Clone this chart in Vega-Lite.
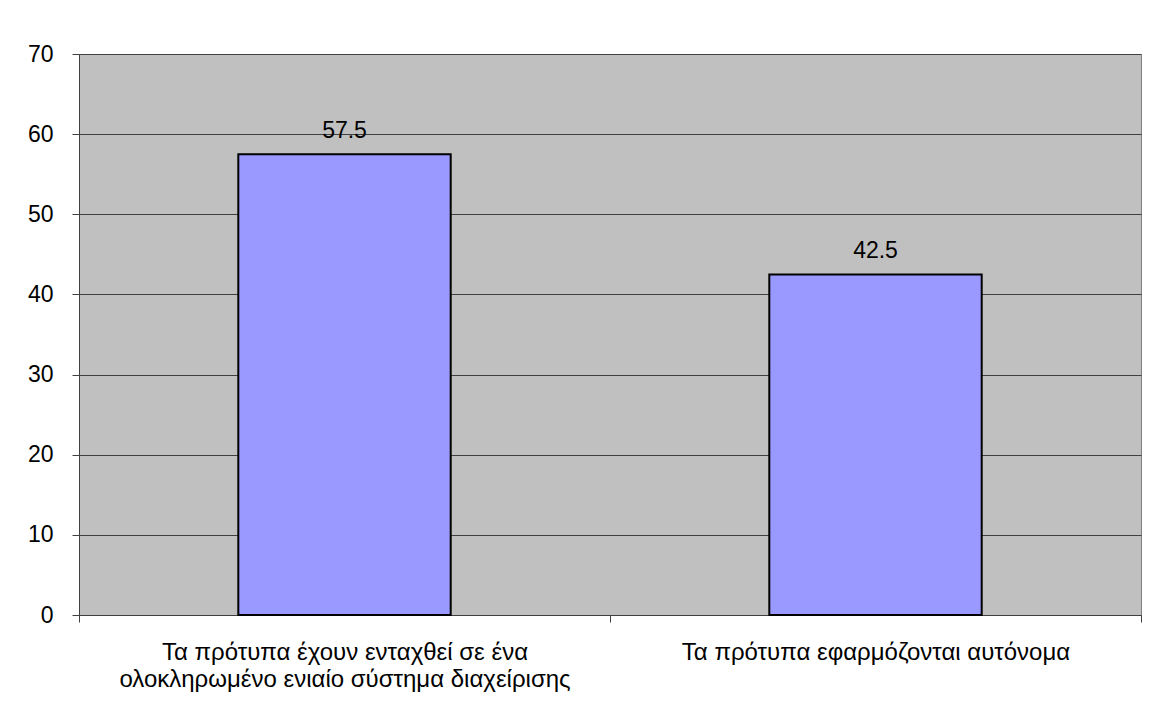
{
  "$schema": "https://vega.github.io/schema/vega-lite/v6.json",
  "autosize": {"type": "none"},
  "width": 1062,
  "height": 561,
  "padding": {"left": 79, "top": 54, "right": 8, "bottom": 112},
  "background": "white",
  "config": {
    "font": "Liberation Sans",
    "view": {"fill": "#C0C0C0", "stroke": "#808080", "strokeWidth": 1},
    "axis": {"labelFont": "Liberation Sans", "labelColor": "black", "labelFontSize": 23}
  },
  "data": {
    "values": [
      {"category": "Τα πρότυπα έχουν ενταχθεί σε ένα ολοκληρωμένο ενιαίο σύστημα διαχείρισης", "value": 57.5},
      {"category": "Τα πρότυπα εφαρμόζονται αυτόνομα", "value": 42.5}
    ]
  },
  "encoding": {
    "x": {
      "field": "category",
      "type": "nominal",
      "sort": null,
      "scale": {"paddingInner": 0, "paddingOuter": 0},
      "axis": {
        "title": null,
        "labelAngle": 0,
        "tickBand": "extent",
        "tickSize": 7,
        "tickColor": "#404040",
        "domainColor": "#404040",
        "labelPadding": 18,
        "labelFontSize": 24,
        "labelLineHeight": 27,
        "labelBaseline": "top",
        "labelLimit": 600,
        "labelExpr": "datum.value == 'Τα πρότυπα έχουν ενταχθεί σε ένα ολοκληρωμένο ενιαίο σύστημα διαχείρισης' ? ['Τα πρότυπα έχουν ενταχθεί σε ένα', 'ολοκληρωμένο ενιαίο σύστημα διαχείρισης'] : datum.value"
      }
    },
    "y": {
      "field": "value",
      "type": "quantitative",
      "scale": {"domain": [0, 70], "nice": false},
      "axis": {
        "title": null,
        "values": [0, 10, 20, 30, 40, 50, 60, 70],
        "tickSize": 7,
        "tickColor": "#404040",
        "domainColor": "#404040",
        "gridColor": "#404040",
        "gridWidth": 1,
        "labelPadding": 19
      }
    }
  },
  "layer": [
    {
      "mark": {"type": "bar", "width": {"band": 0.4}, "fill": "#9999FF", "stroke": "black", "strokeWidth": 2}
    },
    {
      "mark": {"type": "text", "baseline": "alphabetic", "dy": -16, "fontSize": 23, "font": "Liberation Sans", "color": "black"},
      "encoding": {"text": {"field": "value", "type": "quantitative", "format": ".1f"}}
    }
  ]
}
